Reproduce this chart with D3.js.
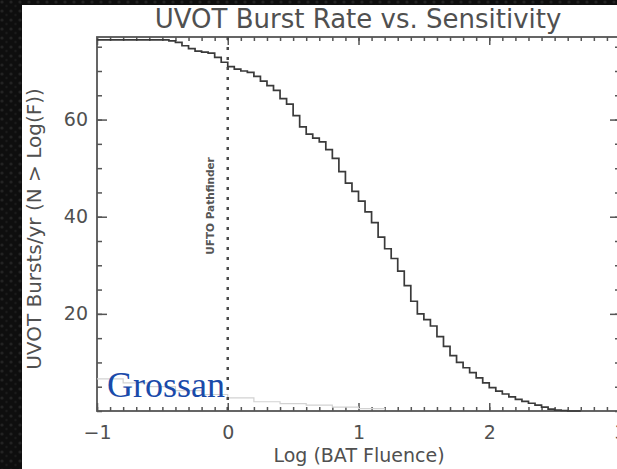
<!DOCTYPE html>
<html>
<head>
<meta charset="utf-8">
<script src="https://cdn.jsdelivr.net/npm/d3@7"></script>
<style>
  html, body { margin: 0; padding: 0; background: #111; }
  svg { display: block; }
</style>
</head>
<body>
<svg width="617" height="469"></svg>
<script>
// log of BAT fluence (bin starts) and cumulative UVOT bursts per year
const logFluence = [
  -1.00, -0.95, -0.90, -0.85, -0.80, -0.75, -0.70, -0.65, -0.60, -0.55,
  -0.50, -0.45, -0.40, -0.35, -0.30, -0.25, -0.20, -0.15, -0.10, -0.05,
  0.00, 0.05, 0.10, 0.15, 0.20, 0.25, 0.30, 0.35, 0.40, 0.45,
  0.50, 0.55, 0.60, 0.65, 0.70, 0.75, 0.80, 0.85, 0.90, 0.95,
  1.00, 1.05, 1.10, 1.15, 1.20, 1.25, 1.30, 1.35, 1.40, 1.45,
  1.50, 1.55, 1.60, 1.65, 1.70, 1.75, 1.80, 1.85, 1.90, 1.95,
  2.00, 2.05, 2.10, 2.15, 2.20, 2.25, 2.30, 2.35, 2.40, 2.45,
  2.50, 2.55, 2.60, 2.65, 2.70,
];
const burstRate = [
  76.4, 76.4, 76.4, 76.4, 76.4, 76.4, 76.4, 76.4, 76.4, 76.4,
  76.4, 76.2, 75.9, 75.2, 74.6, 74.1, 73.9, 73.7, 72.8, 71.8,
  70.9, 70.4, 70.0, 69.7, 68.9, 67.9, 67.0, 66.0, 64.3, 63.2,
  60.8, 58.5, 57.0, 56.2, 55.4, 53.8, 52.0, 49.3, 46.9, 45.2,
  43.2, 41.0, 38.8, 35.8, 33.4, 31.4, 28.8, 25.8, 22.6, 20.0,
  18.8, 17.5, 15.3, 13.3, 11.4, 10.0, 8.9, 7.9, 6.8, 5.8,
  4.8, 4.1, 3.5, 2.9, 2.4, 2.0, 1.6, 1.2, 0.8, 0.4,
  0.2, 0.1, 0, 0, 0,
];

// faint second curve near the bottom
const faintLogFluence = [-1.0, -0.8, -0.6, -0.4, -0.2, 0.0, 0.2, 0.4, 0.6, 0.8, 1.0, 1.2];
const faintRate = [6.6, 5.8, 5.0, 4.2, 3.4, 2.7, 1.9, 1.5, 1.2, 0.8, 0.5, 0.2];

const xMajorTicks = [-1, 0, 1, 2, 3];
const yMajorTicks = [20, 40, 60];
const pathfinderLogF = 0;

const svg = d3.select('svg');
const axisColor = '#555';
const textColor = '#505050';

const x = d3.scaleLinear().domain([-1, 3]).range([97, 620]);
const y = d3.scaleLinear().domain([0, 77]).range([411, 37]);

// dark textured frame
const defs = svg.append('defs');
const grit = defs.append('pattern')
  .attr('id', 'grit')
  .attr('width', 9)
  .attr('height', 9)
  .attr('patternUnits', 'userSpaceOnUse');
grit.append('rect').attr('width', 9).attr('height', 9).attr('fill', '#0e0e0e');
grit.append('circle').attr('cx', 2).attr('cy', 2).attr('r', 1.6).attr('fill', '#232323');
grit.append('circle').attr('cx', 6.5).attr('cy', 6).attr('r', 1.2).attr('fill', '#1b1b1b');

svg.append('rect')
  .attr('width', 617)
  .attr('height', 469)
  .attr('fill', 'url(#grit)');
svg.append('rect')
  .attr('x', 22)
  .attr('y', 5)
  .attr('width', 600)
  .attr('height', 470)
  .attr('fill', 'white');

// axes: majors with labels, minors without, ticks pointing inward
function axis(gen, scale, transform, values, size, labels, padding) {
  const g = svg.append('g')
    .attr('transform', transform)
    .call(gen(scale)
      .tickValues(values)
      .tickSizeInner(size)
      .tickSizeOuter(0)
      .tickPadding(padding || 0)
      .tickFormat(labels ? d3.format('d') : ''));
  g.select('.domain').remove();
  g.selectAll('line').attr('stroke', axisColor).attr('stroke-width', 1.5);
  g.selectAll('text')
    .attr('fill', textColor)
    .attr('font-family', 'DejaVu Sans')
    .attr('font-size', 19);
  return g;
}

const xMinor = d3.range(-10, 31).map(d => d / 10);
const yMinor = d3.range(0, 80, 5);

axis(d3.axisBottom, x, 'translate(0,411)', xMinor, -4, false);
axis(d3.axisBottom, x, 'translate(0,411)', xMajorTicks, -8, true, 15);
axis(d3.axisTop, x, 'translate(0,37)', xMinor, -4, false);
axis(d3.axisTop, x, 'translate(0,37)', xMajorTicks, -8, false);
axis(d3.axisLeft, y, 'translate(97,0)', yMinor, -5, false);
axis(d3.axisLeft, y, 'translate(97,0)', yMajorTicks, -10, true, 9);
axis(d3.axisRight, y, 'translate(620,0)', yMinor, -5, false);
axis(d3.axisRight, y, 'translate(620,0)', yMajorTicks, -10, false);

svg.append('rect')
  .attr('x', x(-1))
  .attr('y', y(77))
  .attr('width', x(3) - x(-1))
  .attr('height', y(0) - y(77))
  .attr('fill', 'none')
  .attr('stroke', axisColor)
  .attr('stroke-width', 1.8);

// curves
const line = d3.line()
  .x(d => x(d[0]))
  .y(d => y(d[1]))
  .curve(d3.curveStepAfter);

svg.append('path')
  .datum(d3.zip(faintLogFluence, faintRate))
  .attr('d', line)
  .attr('fill', 'none')
  .attr('stroke', '#d2d2d2')
  .attr('stroke-width', 1.2);

svg.append('path')
  .datum(d3.zip(logFluence, burstRate))
  .attr('d', line)
  .attr('fill', 'none')
  .attr('stroke', '#3a3a3a')
  .attr('stroke-width', 1.7);

// UFTO Pathfinder limit
svg.append('line')
  .attr('x1', x(pathfinderLogF))
  .attr('x2', x(pathfinderLogF))
  .attr('y1', y(77))
  .attr('y2', y(0))
  .attr('stroke', '#4a4a4a')
  .attr('stroke-width', 2.5)
  .attr('stroke-dasharray', '3,7');

svg.append('text')
  .attr('transform', 'translate(' + (x(pathfinderLogF) - 14) + ',206) rotate(-90)')
  .attr('text-anchor', 'middle')
  .attr('font-family', 'DejaVu Sans')
  .attr('font-weight', 'bold')
  .attr('font-size', 10.5)
  .attr('fill', '#555')
  .text('UFTO Pathfinder');

// titles
svg.append('text')
  .attr('x', 358)
  .attr('y', 28)
  .attr('text-anchor', 'middle')
  .attr('font-family', 'DejaVu Sans')
  .attr('font-size', 26)
  .attr('fill', textColor)
  .text('UVOT Burst Rate vs. Sensitivity');

svg.append('text')
  .attr('x', 359)
  .attr('y', 462)
  .attr('text-anchor', 'middle')
  .attr('font-family', 'DejaVu Sans')
  .attr('font-size', 19)
  .attr('fill', textColor)
  .text('Log (BAT Fluence)');

svg.append('text')
  .attr('transform', 'translate(41,229) rotate(-90)')
  .attr('text-anchor', 'middle')
  .attr('font-family', 'DejaVu Sans')
  .attr('font-size', 20)
  .attr('fill', textColor)
  .text('UVOT Bursts/yr (N > Log(F))');

svg.append('text')
  .attr('x', 107)
  .attr('y', 397)
  .attr('font-family', 'Liberation Serif')
  .attr('font-size', 36)
  .attr('fill', '#1a4aaa')
  .text('Grossan');
</script>
</body>
</html>
